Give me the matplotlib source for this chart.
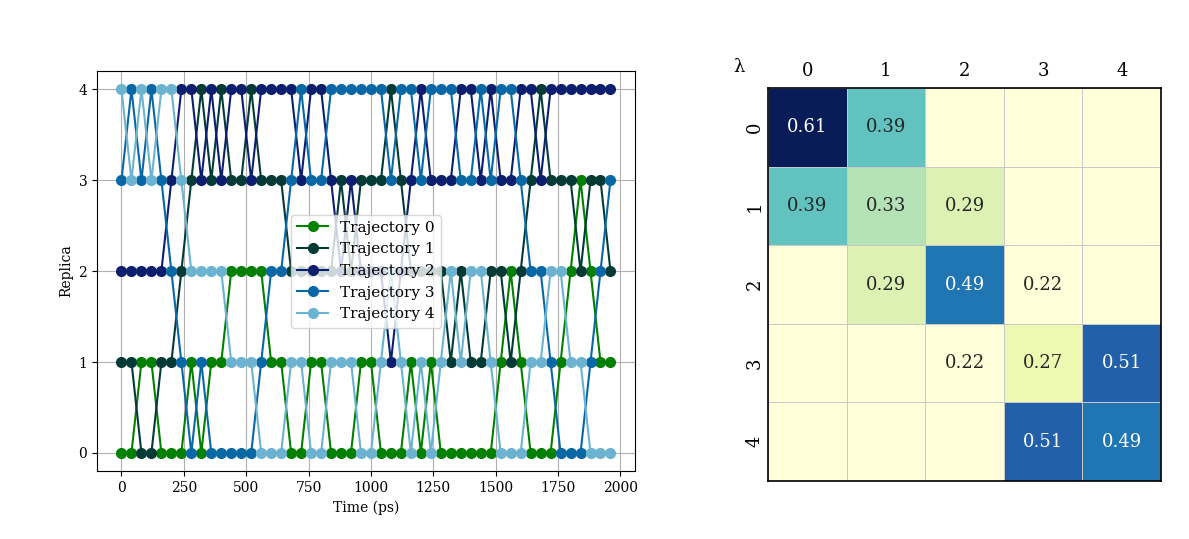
import numpy as np
import matplotlib
matplotlib.use("Agg")
import matplotlib.pyplot as plt
import seaborn as sns

plt.rcParams['font.family'] = ['DejaVu Serif']

# ---- data ----
times = list(range(0, 2000, 40))  # ps

traj_0 = [0,0,1,1,0,0,0,1,0,1,
          1,2,2,2,2,1,1,0,0,1,
          1,0,0,0,1,1,0,0,0,1,
          0,1,0,0,0,0,0,0,1,2,
          1,0,0,0,1,2,3,2,1,1]
traj_1 = [1,1,0,0,1,1,2,3,4,3,
          4,3,3,4,3,3,3,2,2,2,
          2,2,3,2,3,3,3,4,3,2,
          2,2,2,1,2,1,1,2,2,1,
          2,3,4,3,3,3,2,3,3,2]
traj_2 = [2,2,2,2,2,3,4,4,3,4,
          3,4,4,3,4,4,4,4,3,4,
          4,3,2,3,2,2,2,1,2,3,
          4,3,3,3,4,4,3,4,3,3,
          4,4,3,4,4,4,4,4,4,4]
traj_3 = [3,4,3,4,3,2,1,0,1,0,
          0,0,0,0,1,2,2,3,4,3,
          3,4,4,4,4,4,4,3,4,4,
          3,4,4,4,3,3,4,3,4,4,
          3,2,2,1,0,0,0,1,2,3]
traj_4 = [4,3,4,3,4,4,3,2,2,2,
          2,1,1,1,0,0,0,1,1,0,
          0,1,1,1,0,0,1,2,1,0,
          1,0,1,2,1,2,2,1,0,0,
          0,1,1,2,2,1,1,0,0,0]
trajectories = [traj_0, traj_1, traj_2, traj_3, traj_4]
traj_labels = ["Trajectory 0", "Trajectory 1", "Trajectory 2", "Trajectory 3", "Trajectory 4"]
traj_colors = ["#008000", "#023b36", "#0c1e6e", "#0868a6", "#6bb3d0"]

lambdas = ["0", "1", "2", "3", "4"]
overlap = np.array([
    [0.61, 0.39, 0.00, 0.00, 0.00],
    [0.39, 0.33, 0.29, 0.00, 0.00],
    [0.00, 0.29, 0.49, 0.22, 0.00],
    [0.00, 0.00, 0.22, 0.27, 0.51],
    [0.00, 0.00, 0.00, 0.51, 0.49],
])

# ---- figure ----
fig = plt.figure(figsize=(11.89, 5.39), dpi=100)

ax1 = fig.add_axes([0.0816, 0.126, 0.4524, 0.742])
for tr, lab, col in zip(trajectories, traj_labels, traj_colors):
    ax1.plot(times, tr, marker='o', markersize=7, linewidth=1.5, color=col, label=lab)
ax1.set_xticks([0, 250, 500, 750, 1000, 1250, 1500, 1750, 2000])
ax1.set_yticks([0, 1, 2, 3, 4])
ax1.grid(True, color='#b0b0b0', linewidth=0.8)
ax1.set_axisbelow(True)
ax1.set_xlabel("Time (ps)")
ax1.set_ylabel("Replica")
ax1.legend(loc='center', fontsize=11)

ax2 = fig.add_axes([0.646, 0.1076, 0.3305, 0.7291])
annot = np.array([[("%.2f" % v) if v > 0 else "" for v in row] for row in overlap])
sns.heatmap(overlap, ax=ax2, cmap="YlGnBu", vmin=0.22, vmax=0.61, annot=annot, fmt="",
            cbar=False, square=True, linewidths=0.5, linecolor='#c8c8c8',
            annot_kws={"fontsize": 13}, xticklabels=lambdas, yticklabels=lambdas)
ax2.xaxis.tick_top()
ax2.tick_params(axis='x', labelsize=13, length=0, pad=6)
ax2.tick_params(axis='y', labelsize=13, length=0, pad=3)
for lab in ax2.get_yticklabels():
    lab.set_rotation(90)
    lab.set_va('center')
for s in ax2.spines.values():
    s.set_visible(True)
    s.set_color('black')
    s.set_linewidth(1.2)
ax2.text(-0.075, 1.053, "λ", transform=ax2.transAxes, fontsize=13, ha='center', va='center')

fig.savefig("out.png", dpi=100)
